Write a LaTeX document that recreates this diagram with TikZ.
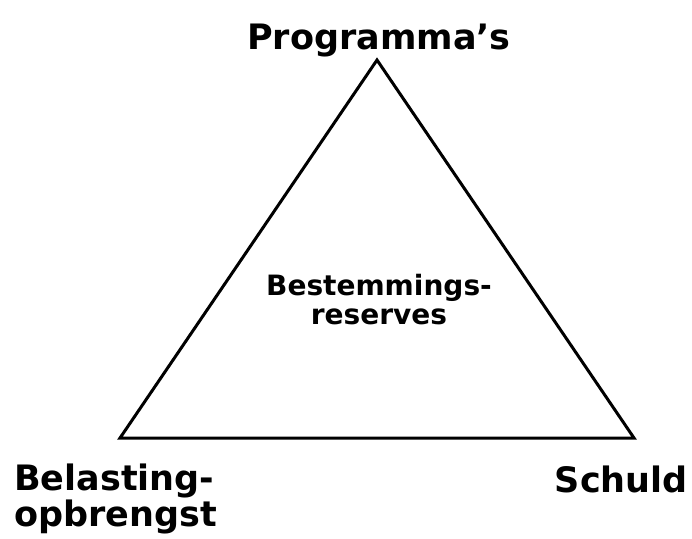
\documentclass[tikz,border=0pt]{standalone}
\usepackage{fontspec}
\setmainfont{DejaVu Sans}
\usetikzlibrary{positioning}
\tikzset{
  corner/.style={font=\bfseries\fontsize{35}{32}\selectfont, inner sep=0pt},
  middle/.style={font=\bfseries\fontsize{28}{29}\selectfont, align=center, inner sep=0pt}
}

\begin{document}
\begin{tikzpicture}[x=1pt,y=-1pt]
    \useasboundingbox (0,0) rectangle (692,538);
    %Corners
    \coordinate (top) at (377,60);
    \coordinate (left) at (120,438);
    \coordinate (right) at (634,438);
    %Triangle
    \draw[line width=3pt, line join=miter] (top) -- (right) -- (left) -- cycle;
    %Labels
    \node[corner, anchor=base] (prog) at (379,49) {Programma's};
    \node[corner, align=left, anchor=west] (bel) at (14,499) {Belasting-\\opbrengst};
    \node[corner, anchor=base east] (schuld) at (688,492) {Schuld};
    \node[middle] (best) at (379,300) {Bestemmings-\\reserves};
\end{tikzpicture}
\end{document}
